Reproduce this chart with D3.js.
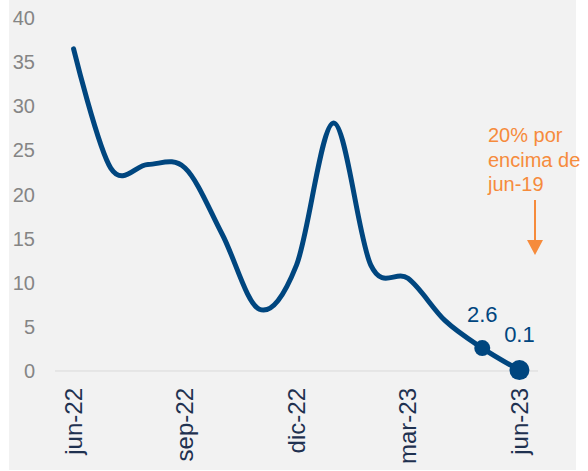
<!DOCTYPE html>
<html>
<head>
<meta charset="utf-8">
<script src="https://cdn.jsdelivr.net/npm/d3@7"></script>
<style>
  body { margin: 0; background: #fff; }
  text { font-family: "Liberation Sans", Arial, sans-serif; }
</style>
</head>
<body>
<div id="chart"></div>
<script>
// data
var months = ["jun-22", "jul-22", "ago-22", "sep-22", "oct-22", "nov-22", "dic-22",
              "ene-23", "feb-23", "mar-23", "abr-23", "may-23", "jun-23"];
var values = [36.5, 23.0, 23.4, 23.0, 15.5, 7.0, 12.0, 28.1, 12.0, 10.5, 5.7, 2.6, 0.1];
var yTicks = [0, 5, 10, 15, 20, 25, 30, 35, 40];
var shownMonths = ["jun-22", "sep-22", "dic-22", "mar-23", "jun-23"];
var labelled = ["may-23", "jun-23"];
var noteLines = ["20% por", "encima de", "jun-19"];

var width = 588, height = 471;
var blue = "#00467f", orange = "#f68b3c";

var svg = d3.select("#chart").append("svg")
    .attr("width", width).attr("height", height);

// grey panel
svg.append("rect")
    .attr("x", 9).attr("y", 0)
    .attr("width", 567).attr("height", 470)
    .attr("fill", "#f2f2f2");

var x = d3.scaleBand().domain(months).range([55, 538]);
var y = d3.scaleLinear().domain([0, 40]).range([371, 18]);
var cx = function (m) { return x(m) + x.bandwidth() / 2; };

// y tick labels
svg.selectAll(".ytick")
    .data(yTicks)
    .enter()
    .append("text")
    .attr("x", 35)
    .attr("y", d => y(d))
    .attr("dy", "0.35em")
    .attr("text-anchor", "end")
    .attr("fill", "#858585")
    .style("font-size", "20px")
    .text(d => d);

// zero line
svg.append("line")
    .attr("x1", 55).attr("x2", 538)
    .attr("y1", y(0)).attr("y2", y(0))
    .attr("stroke", "#d9d9d9")
    .attr("stroke-width", 1);

// x labels (rotated)
svg.selectAll(".xtick")
    .data(shownMonths)
    .enter()
    .append("text")
    .attr("transform", d => "translate(" + cx(d) + "," + 388 + ") rotate(-90)")
    .attr("dy", "0.35em")
    .attr("text-anchor", "end")
    .attr("fill", "#1f3150")
    .style("font-size", "24px")
    .text(d => d);

// line
var line = d3.line()
    .x((d, i) => cx(months[i]))
    .y(d => y(d))
    .curve(d3.curveCardinal.tension(0));

svg.append("path")
    .datum(values)
    .attr("fill", "none")
    .attr("stroke", blue)
    .attr("stroke-width", 5)
    .attr("stroke-linecap", "round")
    .attr("d", line);

// end markers + labels
var pts = labelled.map(m => ({ m: m, v: values[months.indexOf(m)] }));
svg.selectAll(".dot")
    .data(pts)
    .enter()
    .append("circle")
    .attr("cx", d => cx(d.m))
    .attr("cy", d => y(d.v))
    .attr("r", (d, i) => i == 0 ? 8 : 10)
    .attr("fill", blue);

svg.selectAll(".lbl")
    .data(pts)
    .enter()
    .append("text")
    .attr("x", d => cx(d.m))
    .attr("y", (d, i) => i == 0 ? 322 : 342)
    .attr("text-anchor", "middle")
    .attr("fill", blue)
    .style("font-size", "22px")
    .text(d => d.v.toFixed(1));

// annotation
svg.append("text")
    .attr("x", 488)
    .attr("y", 142)
    .attr("fill", orange)
    .style("font-size", "20px")
    .selectAll("tspan")
    .data(noteLines)
    .enter()
    .append("tspan")
    .attr("x", 488)
    .attr("dy", (d, i) => i == 0 ? 0 : 24.5)
    .text(d => d);

svg.append("line")
    .attr("x1", 535).attr("x2", 535)
    .attr("y1", 200).attr("y2", 242)
    .attr("stroke", orange)
    .attr("stroke-width", 2);

svg.append("path")
    .attr("d", "M527,240 L543,240 L535,255 Z")
    .attr("fill", orange);
</script>
</body>
</html>
